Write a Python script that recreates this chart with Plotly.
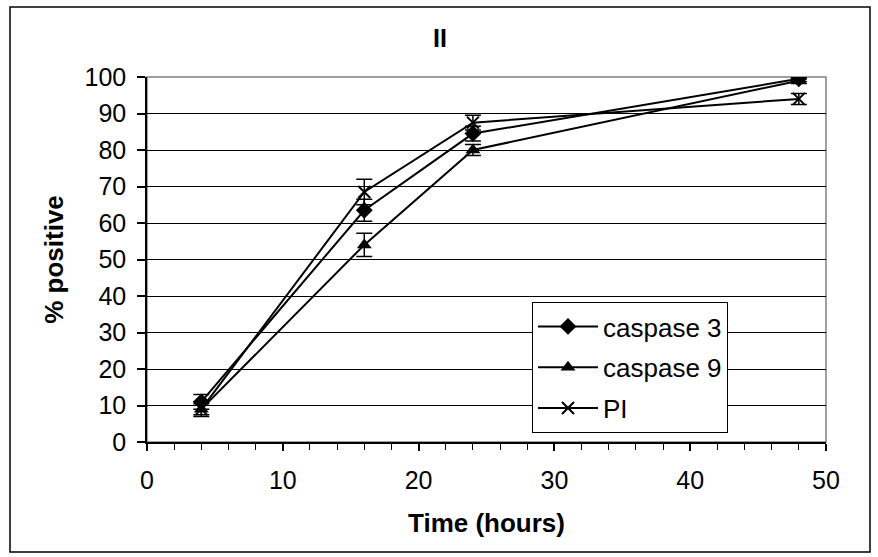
import plotly.graph_objects as go

time_h = [4, 16, 24, 48]
casp3 = [11, 63.5, 84.5, 99.5]
casp3_err = [2, 3, 2, 0.8]
casp9 = [9, 54, 80, 99]
casp9_err = [1.5, 3.2, 1.5, 0.8]
pi = [9, 68.5, 87.5, 94]
pi_err = [2, 3.5, 2, 1.5]

FONT = "Liberation Sans, Arial, sans-serif"

fig = go.Figure()
series = [
    ("caspase 3", casp3, casp3_err, "diamond", 13, 0),
    ("caspase 9", casp9, casp9_err, "triangle-up", 13, 0),
    ("PI", pi, pi_err, "x-thin-open", 12, 2),
]
for i, (name, y, e, sym, sz, lw) in enumerate(series):
    fig.add_trace(go.Scatter(
        x=time_h, y=y, name=name, mode="lines+markers",
        line=dict(color="black", width=2),
        marker=dict(symbol=sym, size=sz, color="black", line=dict(color="black", width=lw)),
        error_y=dict(type="data", array=e, visible=True, color="black", thickness=1.5, width=8),
        legendgroup=name,
    ))

# plot area: x 147..826, y 77..442
L, R, T, B = 147, 826, 77, 442
W, H = R - L, B - T

fig.add_shape(type="rect", xref="paper", yref="paper",
              x0=(10 - L) / W, x1=(870 - L) / W,
              y0=(B - 552) / H, y1=(B - 7) / H,
              line=dict(color="black", width=1.5), fillcolor="rgba(0,0,0,0)", layer="below")
fig.add_shape(type="rect", xref="paper", yref="paper", x0=0, x1=1, y0=0, y1=1,
              line=dict(color="#808080", width=1.5), fillcolor="rgba(0,0,0,0)", layer="below")

fig.update_layout(
    width=878, height=557,
    margin=dict(l=L, r=878 - R, t=T, b=557 - B),
    paper_bgcolor="white", plot_bgcolor="white",
    font=dict(family=FONT, size=25, color="black"),
    title=dict(text="<b>II</b>", x=440 / 878, xanchor="center", y=1 - 38 / 557, yanchor="middle",
               font=dict(family=FONT, size=25, color="black")),
    showlegend=True,
    legend=dict(x=(532 - L) / W, y=(B - 302) / H, xanchor="left", yanchor="top",
                bgcolor="white", bordercolor="black", borderwidth=1,
                font=dict(family=FONT, size=26, color="black"),
                tracegroupgap=4, itemwidth=60),
    xaxis=dict(range=[0, 50], tick0=0, dtick=10, showgrid=False, zeroline=False,
               showline=True, linecolor="black", linewidth=1.5,
               ticks="outside", ticklen=7, tickcolor="black", tickwidth=1.5,
               minor=dict(dtick=2, ticks="outside", ticklen=6, tickcolor="black", tickwidth=1),
               tickfont=dict(family=FONT, size=25), ticklabelstandoff=8,
               title=dict(text="<b>Time (hours)</b>", font=dict(family=FONT, size=26), standoff=21)),
    yaxis=dict(range=[0, 100], dtick=10, showgrid=True, gridcolor="black", gridwidth=1,
               zeroline=False, showline=True, linecolor="black", linewidth=1.5,
               ticks="outside", ticklen=8, tickcolor="black", tickwidth=1.5,
               tickfont=dict(family=FONT, size=25), ticklabelstandoff=6,
               title=dict(text="<b>% positive</b>", font=dict(family=FONT, size=26), standoff=13)),
)

fig.write_html("out.html")
